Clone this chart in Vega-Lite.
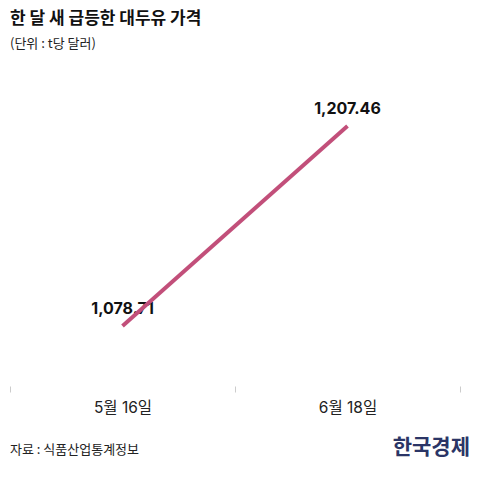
{
  "$schema": "https://vega.github.io/schema/vega-lite/v6.json",
  "autosize": "none",
  "width": 450,
  "height": 316,
  "padding": {"left": 10, "top": 70, "right": 20, "bottom": 94},
  "background": "white",
  "config": {
    "view": {"stroke": null},
    "font": "Noto Sans CJK KR"
  },
  "title": {
    "text": "한 달 새 급등한 대두유 가격",
    "subtitle": "(단위 : t당 달러)",
    "anchor": "start",
    "frame": "group",
    "offset": 18,
    "font": "Noto Sans CJK KR",
    "fontSize": 17,
    "fontWeight": "bold",
    "color": "#111111",
    "subtitleFont": "Noto Sans CJK KR",
    "subtitleFontSize": 13,
    "subtitleColor": "#222222",
    "subtitlePadding": 10
  },
  "data": {
    "values": [
      {"date": "5월 16일", "price": 1078.71},
      {"date": "6월 18일", "price": 1207.46}
    ]
  },
  "encoding": {
    "x": {
      "field": "date",
      "type": "nominal",
      "sort": null,
      "scale": {"paddingInner": 0, "paddingOuter": 0},
      "axis": {
        "title": null,
        "domain": false,
        "grid": false,
        "ticks": true,
        "tickBand": "extent",
        "tickSize": 6,
        "tickColor": "#cccccc",
        "labelAngle": 0,
        "labelFont": "Inter, Noto Sans CJK KR",
        "labelFontSize": 15.5,
        "labelColor": "#222222",
        "labelPadding": 8
      }
    },
    "y": {
      "field": "price",
      "type": "quantitative",
      "scale": {"domain": [1040.1, 1243.5], "zero": false, "nice": false},
      "axis": null
    }
  },
  "layer": [
    {
      "mark": {"type": "text", "font": "Inter", "fontSize": 16, "fontWeight": "bold", "dy": -12, "color": "#111111", "baseline": "alphabetic"},
      "encoding": {"text": {"field": "price", "type": "quantitative", "format": ",.2f"}}
    },
    {
      "mark": {"type": "line", "color": "#c24f7a", "strokeWidth": 4}
    },
    {
      "data": {"values": [{"t": "자료 : 식품산업통계정보"}]},
      "mark": {"type": "text", "align": "left", "baseline": "alphabetic", "fontSize": 13, "color": "#222222", "x": 0, "y": 384},
      "encoding": {"text": {"field": "t", "type": "nominal"}, "x": null, "y": null}
    },
    {
      "data": {"values": [{"t": "한국경제"}]},
      "mark": {"type": "text", "align": "right", "baseline": "alphabetic", "fontSize": 21, "fontWeight": "bold", "color": "#2b3566", "x": 460, "y": 384},
      "encoding": {"text": {"field": "t", "type": "nominal"}, "x": null, "y": null}
    }
  ]
}
